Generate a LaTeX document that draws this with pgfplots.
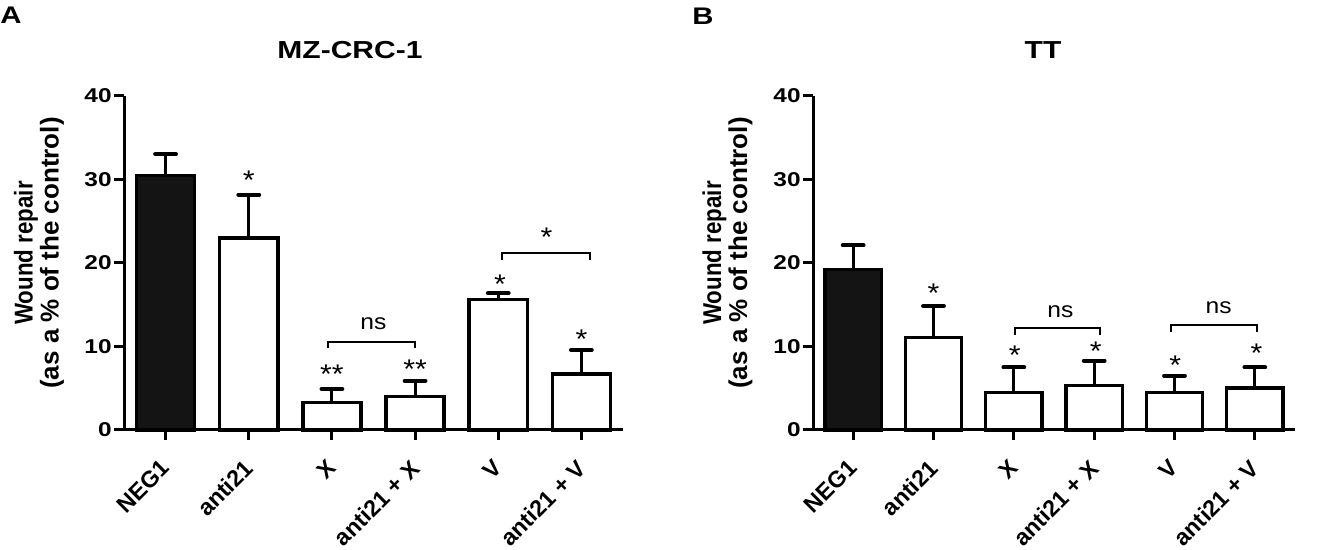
\documentclass[border=0pt]{standalone}
\usepackage{fontspec}
\setmainfont{Liberation Sans}
\newfontfamily\numfont[FakeStretch=1.22]{Liberation Sans}
\newfontfamily\titfont[FakeStretch=1.22]{Liberation Sans}
\newfontfamily\annfont[FakeStretch=1.12]{Liberation Sans}
\usepackage{pgfplots}
\usepackage{pgfplotstable}
\pgfplotsset{compat=1.18}

\pgfplotstableread{
x y e
0 30.45 2.6
}\negA
\pgfplotstableread{
x y e
1 23.0 5.2
2 3.3 1.6
3 4.0 1.9
4 15.6 0.8
5 6.7 2.9
}\othA
\pgfplotstableread{
x y e
0 19.2 2.9
}\negB
\pgfplotstableread{
x y e
1 11.1 3.75
2 4.5 3.0
3 5.3 3.0
4 4.5 2.0
5 5.0 2.5
}\othB

\tikzset{
  sig/.style={font=\annfont\fontsize{13.5}{14}\selectfont, inner sep=0pt, anchor=north},
  nslab/.style={font=\annfont\fontsize{11}{12}\selectfont, inner sep=0pt, anchor=base},
  brk/.style={black, line width=1pt, sharp plot, mark=none},
}
\pgfplotsset{
  panel/.style={
    scale only axis, height=167pt,
    ymin=0, ymax=40, xmin=-0.5, xmax=5.5,
    axis x line*=bottom, axis y line*=left,
    axis line style={line width=1.5pt, -},
    ytick={0,10,20,30,40}, yticklabels={0,10,20,30,40},
    xtick={0,...,5},
    xticklabels={NEG1, anti21, X, anti21 + X, V, anti21 + V},
    tick align=outside, major tick length=5pt,
    tick style={line width=1.5pt, black},
    yticklabel style={font=\numfont\bfseries\fontsize{10}{11}\selectfont, inner sep=1pt},
    xticklabel style={font=\bfseries\fontsize{11.6}{13}\selectfont, xshift=-3pt, yshift=-7.5pt, rotate=45, anchor=north east, inner sep=1pt},
    clip=false,
  },
  bars/.style={ybar, bar width=0.7, bar shift=0pt, draw=black, line width=1.75pt,
    error bars/y dir=plus, error bars/y explicit,
    error bars/error bar style={line width=1.5pt, black},
    error bars/error mark options={rotate=90, line width=2pt, mark size=5.2pt, line cap=round, black}},
}

\begin{document}
\begin{tikzpicture}
\useasboundingbox (0,0) rectangle (658.5pt,275pt);

% Panel A
\begin{axis}[panel, width=249.5pt, at={(62pt,60pt)}, anchor=south west]
  \addplot[bars, fill=black!92] table[x=x, y=y, y error=e] {\negA};
  \addplot[bars, fill=white] table[x=x, y=y, y error=e] {\othA};
  \addplot[brk] coordinates {(1.95,9.8) (1.95,10.57) (3.0,10.57) (3.0,9.8)};
  \addplot[brk] coordinates {(4.05,20.36) (4.05,21.16) (5.1,21.16) (5.1,20.36)};
  \node[sig] at (axis cs:1,31.1) {*};
  \node[sig] at (axis cs:2,7.8) {**};
  \node[sig] at (axis cs:3,8.4) {**};
  \node[sig] at (axis cs:4.02,18.6) {*};
  \node[sig] at (axis cs:5,12.0) {*};
  \node[sig] at (axis cs:4.58,24.2) {*};
  \node[nslab] at (axis cs:2.5,12.0) {ns};
\end{axis}

% Panel B
\begin{axis}[panel, width=241pt, at={(406.5pt,60pt)}, anchor=south west]
  \addplot[bars, fill=black!92] table[x=x, y=y, y error=e] {\negB};
  \addplot[bars, fill=white] table[x=x, y=y, y error=e] {\othB};
  \addplot[brk] coordinates {(2.02,11.38) (2.02,12.18) (3.07,12.18) (3.07,11.38)};
  \addplot[brk] coordinates {(3.96,11.77) (3.96,12.57) (5.03,12.57) (5.03,11.77)};
  \node[sig] at (axis cs:1,17.6) {*};
  \node[sig] at (axis cs:2.01,10.1) {*};
  \node[sig] at (axis cs:3.02,10.6) {*};
  \node[sig] at (axis cs:4.01,8.9) {*};
  \node[sig] at (axis cs:5.02,10.3) {*};
  \node[nslab] at (axis cs:2.58,13.5) {ns};
  \node[nslab] at (axis cs:4.55,14.0) {ns};
\end{axis}

% Panel letters and titles
\node[anchor=base west, inner sep=0pt, font=\titfont\bfseries\fontsize{12}{14}\selectfont] at (0pt,263pt) {A};
\node[anchor=base west, inner sep=0pt, font=\titfont\bfseries\fontsize{12}{14}\selectfont] at (346pt,262.5pt) {B};
\node[anchor=base, inner sep=0pt, font=\titfont\bfseries\fontsize{12.3}{14}\selectfont] at (175pt,245.5pt) {MZ-CRC-1};
\node[anchor=base, inner sep=0pt, font=\titfont\bfseries\fontsize{12.3}{14}\selectfont] at (521.5pt,245.5pt) {TT};

% y labels
\node[rotate=90, align=center, inner sep=0pt, font=\bfseries\fontsize{11.5}{13}\selectfont] at (19.5pt,148.5pt)
  {\scalebox{0.97}[1.12]{Wound repair}\\\scalebox{1.13}[1.12]{(as a \% of the control)}};
\node[rotate=90, align=center, inner sep=0pt, font=\bfseries\fontsize{11.5}{13}\selectfont] at (363.75pt,148.5pt)
  {\scalebox{0.97}[1.12]{Wound repair}\\\scalebox{1.13}[1.12]{(as a \% of the control)}};
\end{tikzpicture}
\end{document}
